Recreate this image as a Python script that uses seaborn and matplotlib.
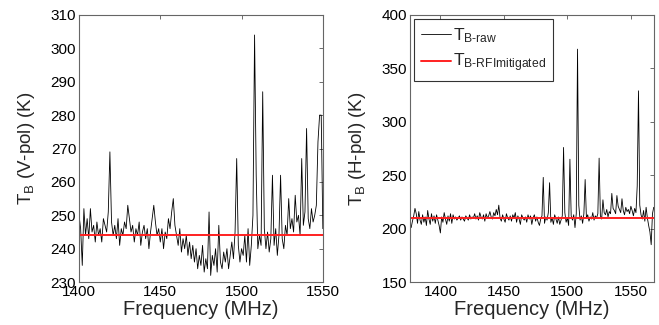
import numpy as np
import pandas as pd
import matplotlib
matplotlib.use("Agg")
import matplotlib.pyplot as plt
import seaborn as sns

# V-pol spectrum, 1 MHz steps from 1400 to 1550 MHz
freq_v = np.arange(1400, 1551)
tb_v_raw = [
    250, 246, 235, 252, 244, 249, 243, 252, 245, 247,
    242, 248, 244, 246, 242, 249, 247, 245, 251, 269,
    248, 244, 247, 243, 249, 241, 246, 244, 248, 246,
    253, 249, 245, 247, 242, 246, 244, 248, 241, 245,
    247, 243, 246, 240, 245, 249, 253, 248, 244, 246,
    242, 246, 240, 245, 243, 249, 246, 251, 255, 247,
    244, 241, 246, 239, 243, 240, 244, 238, 242, 237,
    241, 236, 240, 234, 238, 235, 241, 233, 237, 234,
    251, 232, 238, 235, 240, 233, 247, 236, 234, 239,
    236, 240, 234, 238, 242, 237, 245, 267, 241, 236,
    240, 238, 244, 236, 246, 235, 241, 250, 304, 262,
    240, 244, 241, 287, 246, 240, 245, 239, 243, 262,
    241, 246, 238, 244, 262, 243, 240, 247, 244, 255,
    246, 249, 245, 256, 248, 250, 244, 267, 247, 251,
    276, 249, 246, 252, 248, 250, 253, 272, 280, 280,
    246,
]
tb_v_mitigated = 244.2

# H-pol spectrum, 1 MHz steps from 1376 to 1568 MHz
freq_h = np.arange(1376, 1569)
tb_h_raw = [
    203, 201, 207, 212, 219, 214, 205, 216, 208, 204,
    213, 206, 211, 203, 217, 209, 204, 214, 207, 212,
    205, 213, 208, 203, 196, 211, 206, 215, 209, 204,
    212, 207, 214, 205, 213, 209, 211, 208, 210, 212,
    208, 211, 209, 207, 212, 210, 208, 213, 209, 211,
    210, 214, 209, 212, 208, 215, 211, 209, 213, 207,
    214, 210, 212, 216, 211, 209, 215, 212, 218, 213,
    222, 210, 207, 213, 209, 206, 214, 210, 208, 212,
    207, 213, 210, 215, 206, 212, 209, 204, 213, 210,
    208, 211, 206, 213, 209, 212, 204, 210, 213, 207,
    211, 206, 203, 209, 212, 248, 205, 211, 208, 215,
    243, 206, 210, 204, 213, 209, 205, 211, 204, 208,
    212, 276, 215, 206, 210, 203, 265, 212, 208, 213,
    201, 214, 368, 222, 208, 212, 205, 214, 246, 210,
    213, 207, 211, 209, 215, 208, 212, 210, 214, 266,
    212, 209, 227, 215, 213, 218, 211, 216, 214, 233,
    219, 217, 214, 231, 221, 218, 215, 228, 217, 213,
    220, 216, 218, 214, 221, 217, 212, 219, 215, 240,
    329, 222, 213, 209, 217, 207, 220, 210, 203, 197,
    185, 214, 220,
]
tb_h_mitigated = 210.0

df_v = pd.DataFrame({"freq": freq_v, "tb": tb_v_raw})
df_h = pd.DataFrame({"freq": freq_h, "tb": tb_h_raw})

sns.set_theme(style="white")
plt.rcParams["font.family"] = ["Liberation Sans", "DejaVu Sans"]
plt.rcParams["mathtext.fontset"] = "custom"
plt.rcParams["mathtext.rm"] = "Liberation Sans"
plt.rcParams["mathtext.it"] = "Liberation Sans"
plt.rcParams["axes.unicode_minus"] = False

fig = plt.figure(figsize=(6.59, 3.25), dpi=100)
ax1 = fig.add_axes([0.1199, 0.132, 0.370, 0.822])
ax2 = fig.add_axes([0.622, 0.132, 0.370, 0.822])

# left: V-pol
sns.lineplot(data=df_v, x="freq", y="tb", ax=ax1, color="black",
             linewidth=0.6, estimator=None)
ax1.axhline(tb_v_mitigated, color="#ff2020", linewidth=1.4)
ax1.set_xlim(1400, 1550)
ax1.set_ylim(230, 310)
ax1.set_xticks([1400, 1450, 1500, 1550])
ax1.set_yticks(np.arange(230, 311, 10))
ax1.set_ylabel("T$_\\mathregular{B}$ (V-pol) (K)", fontsize=13.5, labelpad=10)

# right: H-pol
sns.lineplot(data=df_h, x="freq", y="tb", ax=ax2, color="black",
             linewidth=0.6, estimator=None,
             label="T$_{\\mathregular{B\\text{-}raw}}$")
ax2.axhline(tb_h_mitigated, color="#ff2020", linewidth=1.4,
            label="T$_{\\mathregular{B\\text{-}RFImitigated}}$")
ax2.set_xlim(1376, 1568)
ax2.set_ylim(150, 400)
ax2.set_xticks([1400, 1450, 1500, 1550])
ax2.set_yticks([150, 200, 250, 300, 350, 400])
ax2.set_ylabel("T$_\\mathregular{B}$ (H-pol) (K)", fontsize=13.5, labelpad=10)
leg = ax2.legend(loc="upper left", fontsize=12.5, frameon=True, fancybox=False,
                 borderaxespad=0.25, handlelength=1.7, handletextpad=0.15,
                 borderpad=0.4, labelspacing=0.4)
leg.get_frame().set_edgecolor("black")
leg.get_frame().set_linewidth(0.8)

for ax in (ax1, ax2):
    ax.set_xlabel("Frequency (MHz)", fontsize=14.5, labelpad=1)
    ax.tick_params(direction="in", length=3, width=0.6, labelsize=11,
                   top=True, right=True, colors="#555555", labelcolor="black",
                   pad=2)
    for sp in ax.spines.values():
        sp.set_color("#666666")
        sp.set_linewidth(0.8)

fig.savefig("out.png", dpi=100)
